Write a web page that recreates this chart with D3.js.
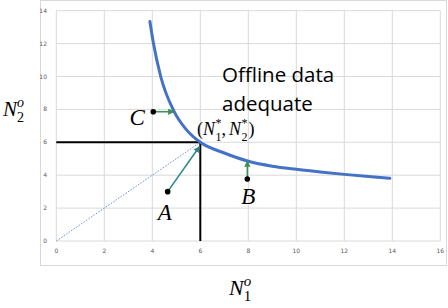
<!DOCTYPE html>
<html>
<head>
<meta charset="utf-8">
<script src="https://cdn.jsdelivr.net/npm/d3@7"></script>
<style>
  body { margin: 0; background: #fff; }
  svg { display: block; }
</style>
</head>
<body>
<div id="chart"></div>
<script>
// curve
var curveX = [3.9, 4.05, 4.35, 4.9, 5.4, 6, 7, 8, 9, 10, 11, 12, 13, 13.9];
var curveY = [13.35, 12, 10, 7.9, 6.8, 6, 5.35, 4.85, 4.55, 4.36, 4.2, 4.05, 3.92, 3.81];

var xTicks = [0, 2, 4, 6, 8, 10, 12, 14, 16];
var yTicks = [0, 2, 4, 6, 8, 10, 12, 14];

// the (N1*, N2*) point and the guide lines
var starPoint = [6, 6];
// labelled points and where their arrows end
var pointNames = ["C", "A", "B"];
var pointFrom = [[4.04, 7.86], [4.64, 3.0], [7.96, 3.77]];
var pointTo = [[4.9, 7.86], [5.96, 5.73], [7.96, 4.86]];

var width = 448, height = 308;

var svg = d3.select("#chart").append("svg")
    .attr("width", width)
    .attr("height", height);

// outer frame of the chart area
svg.append("rect")
    .attr("x", 40.5).attr("y", 0.5)
    .attr("width", 406).attr("height", 265)
    .attr("fill", "#fff")
    .attr("stroke", "#d9d9d9");

var x = d3.scaleLinear().domain([0, 16]).range([56.3, 440.3]);
var y = d3.scaleLinear().domain([0, 14]).range([241, 10.7]);

//gridlines
svg.append("g").selectAll("line.v")
    .data(xTicks)
    .enter().append("line")
    .attr("x1", function(d) { return x(d); })
    .attr("x2", function(d) { return x(d); })
    .attr("y1", y(0)).attr("y2", y(14))
    .attr("stroke", "#d9d9d9").attr("stroke-width", 1);
svg.append("g").selectAll("line.h")
    .data(yTicks)
    .enter().append("line")
    .attr("y1", function(d) { return y(d); })
    .attr("y2", function(d) { return y(d); })
    .attr("x1", x(0)).attr("x2", x(16))
    .attr("stroke", "#d9d9d9").attr("stroke-width", 1);

// tick labels
svg.append("g").selectAll("text")
    .data(xTicks)
    .enter().append("text")
    .attr("x", function(d) { return x(d); })
    .attr("y", 253)
    .attr("text-anchor", "middle")
    .attr("font-family", "DejaVu Sans, sans-serif")
    .attr("font-size", 6)
    .attr("fill", "#595959")
    .text(function(d) { return d; });
svg.append("g").selectAll("text")
    .data(yTicks)
    .enter().append("text")
    .attr("x", 47)
    .attr("y", function(d) { return y(d) + 2; })
    .attr("text-anchor", "end")
    .attr("font-family", "DejaVu Sans, sans-serif")
    .attr("font-size", 6)
    .attr("fill", "#595959")
    .text(function(d) { return d; });

// dotted line from origin
svg.append("line")
    .attr("x1", x(0)).attr("y1", y(0))
    .attr("x2", x(starPoint[0])).attr("y2", y(starPoint[1]))
    .attr("stroke", "#4472c4").attr("stroke-width", 0.8)
    .attr("stroke-dasharray", "1.5,1.5");

// black guide lines
svg.append("line")
    .attr("x1", x(0)).attr("y1", y(starPoint[1]))
    .attr("x2", x(starPoint[0])).attr("y2", y(starPoint[1]))
    .attr("stroke", "#000").attr("stroke-width", 2);
svg.append("line")
    .attr("x1", x(starPoint[0])).attr("y1", y(starPoint[1]))
    .attr("x2", x(starPoint[0])).attr("y2", y(0))
    .attr("stroke", "#000").attr("stroke-width", 2);

// the curve
var curveData = curveX.map(function(d, i) { return [d, curveY[i]]; });
var line = d3.line()
    .x(function(d) { return x(d[0]); })
    .y(function(d) { return y(d[1]); })
    .curve(d3.curveMonotoneX);
svg.append("path")
    .datum(curveData)
    .attr("d", line)
    .attr("fill", "none")
    .attr("stroke", "#4472c4")
    .attr("stroke-width", 3)
    .attr("stroke-linecap", "round");

// arrow heads
var defs = svg.append("defs");
["#3f8f5a", "#2e8b8b"].forEach(function(c, i) {
    defs.append("marker")
        .attr("id", "arr" + i)
        .attr("viewBox", "0 0 10 10")
        .attr("refX", 9).attr("refY", 5)
        .attr("markerWidth", 4).attr("markerHeight", 4)
        .attr("orient", "auto")
        .append("path")
        .attr("d", "M0,0L10,5L0,10z")
        .attr("fill", c);
});

var arrowColor = ["#3f8f5a", "#2e8b8b", "#3f8f5a"];
pointNames.forEach(function(name, i) {
    svg.append("line")
        .attr("x1", x(pointFrom[i][0])).attr("y1", y(pointFrom[i][1]))
        .attr("x2", x(pointTo[i][0])).attr("y2", y(pointTo[i][1]))
        .attr("stroke", arrowColor[i]).attr("stroke-width", 1.6)
        .attr("marker-end", "url(#arr" + (i === 1 ? 1 : 0) + ")");
    svg.append("circle")
        .attr("cx", x(pointFrom[i][0])).attr("cy", y(pointFrom[i][1]))
        .attr("r", 2.8)
        .attr("fill", "#000");
});

// point letters
var serif = "Liberation Serif, DejaVu Serif, serif";
var letterPos = [[-16, 13], [-3, 28], [1, 25]];
pointNames.forEach(function(name, i) {
    svg.append("text")
        .attr("x", x(pointFrom[i][0]) + letterPos[i][0])
        .attr("y", y(pointFrom[i][1]) + letterPos[i][1])
        .attr("text-anchor", "middle")
        .attr("font-family", serif)
        .attr("font-style", "italic")
        .attr("font-size", 23)
        .text(name);
});

// little math labels: each part is [text, size, italic, shift, advance]
function mathLabel(px, py, parts) {
    var cx = px, lastW = 0;
    parts.forEach(function(p) {
        var t = svg.append("text")
            .attr("x", cx).attr("y", py + p[3])
            .attr("font-family", serif)
            .attr("font-size", p[1])
            .attr("font-style", p[2] ? "italic" : "normal")
            .text(p[0]);
        var w = t.node().getComputedTextLength();
        if (p[4]) {
            cx += Math.max(w, lastW) + (p[5] || 0);
            lastW = 0;
        } else {
            lastW = w;
        }
    });
}

mathLabel(197, 135, [
    ["(", 18, false, 0, true],
    ["N", 18, true, 0, true, 0.5],
    ["*", 12, false, -8, false],
    ["1", 12, false, 6, true],
    [",", 18, false, 0, true, 3],
    ["N", 18, true, 0, true, 0.5],
    ["*", 12, false, -8, false],
    ["2", 12, false, 6, true, 1],
    [")", 18, false, 0, true]
]);

// region label
svg.append("text")
    .attr("x", 222).attr("y", 82)
    .attr("font-family", "Open Sans, sans-serif")
    .attr("font-size", 20.5)
    .text("Offline data");
svg.append("text")
    .attr("x", 222).attr("y", 111)
    .attr("font-family", "Open Sans, sans-serif")
    .attr("font-size", 20.5)
    .text("adequate");

// axis titles
mathLabel(3, 116, [
    ["N", 21, true, 0, true],
    ["o", 14, true, -9, false],
    ["2", 14, false, 6, true]
]);
mathLabel(229, 295, [
    ["N", 22, true, 0, true],
    ["o", 15, true, -9, false],
    ["1", 15, false, 6, true]
]);
</script>
</body>
</html>
